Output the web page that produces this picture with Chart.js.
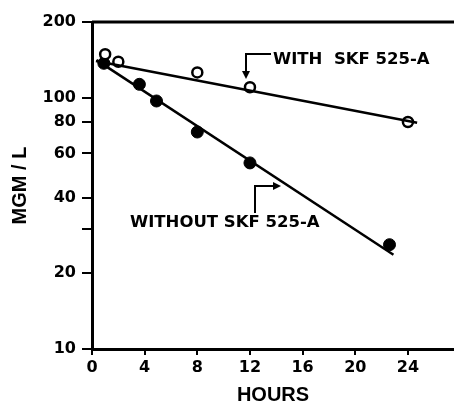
<!DOCTYPE html>
<html>
<head>
<meta charset="utf-8">
<script src="https://cdn.jsdelivr.net/npm/chart.js@4/dist/chart.umd.min.js"></script>
<style>
  html, body { margin: 0; padding: 0; background: #fff; }
  #wrap { width: 454px; height: 405px; }
</style>
</head>
<body>
<div id="wrap"><canvas id="chart" width="454" height="405"></canvas></div>
<script>
// data
const withHours = [1, 2, 8, 12, 24];
const withConc = [149, 139, 126, 110, 80];
const withoutHours = [0.9, 3.6, 4.9, 8, 12, 22.6];
const withoutConc = [137, 113, 97, 73, 55, 26];

// fitted lines (end points)
const withFitHours = [0.3, 24.7];
const withFitConc = [140, 79.5];
const withoutFitHours = [0.35, 22.9];
const withoutFitConc = [141, 23.7];

const xTicks = [0, 4, 8, 12, 16, 20, 24];
const yTicks = [10, 20, 30, 40, 60, 80, 100, 200];
const yLabelled = [10, 20, 40, 60, 80, 100, 200];

function pts(xs, ys) {
    return xs.map((x, i) => ({ x: x, y: ys[i] }));
}

Chart.defaults.color = "#000";
Chart.defaults.font.family = "'DejaVu Sans', sans-serif";
Chart.defaults.font.weight = "bold";

// top frame line and the two arrow labels
const extras = {
    id: "extras",
    afterDraw(chart) {
        const ctx = chart.ctx;
        const a = chart.chartArea;
        ctx.save();
        ctx.strokeStyle = "#000";
        ctx.fillStyle = "#000";
        ctx.lineWidth = 3;
        ctx.beginPath();
        ctx.moveTo(a.left, a.top);
        ctx.lineTo(a.right, a.top);
        ctx.stroke();

        ctx.font = "bold 16.5px 'DejaVu Sans'";
        ctx.textBaseline = "middle";
        ctx.textAlign = "left";
        ctx.fillText("WITH  SKF 525-A", 273, 60);
        ctx.fillText("WITHOUT SKF 525-A", 130, 223);

        ctx.lineWidth = 2;
        // arrow down to the 12 h open circle
        ctx.beginPath();
        ctx.moveTo(271, 54);
        ctx.lineTo(246, 54);
        ctx.lineTo(246, 72);
        ctx.stroke();
        ctx.beginPath();
        ctx.moveTo(242, 71);
        ctx.lineTo(250, 71);
        ctx.lineTo(246, 79);
        ctx.closePath();
        ctx.fill();

        // arrow right towards the lower line
        ctx.beginPath();
        ctx.moveTo(255, 213);
        ctx.lineTo(255, 186);
        ctx.lineTo(274, 186);
        ctx.stroke();
        ctx.beginPath();
        ctx.moveTo(273, 182);
        ctx.lineTo(273, 190);
        ctx.lineTo(281, 186);
        ctx.closePath();
        ctx.fill();
        ctx.restore();
    }
};

new Chart(document.getElementById("chart"), {
    type: "scatter",
    data: {
        datasets: [
            {
                label: "with fit",
                data: pts(withFitHours, withFitConc),
                showLine: true,
                pointRadius: 0,
                borderColor: "#000",
                borderWidth: 2.5
            },
            {
                label: "without fit",
                data: pts(withoutFitHours, withoutFitConc),
                showLine: true,
                pointRadius: 0,
                borderColor: "#000",
                borderWidth: 2.5
            },
            {
                label: "WITH SKF 525-A",
                data: pts(withHours, withConc),
                pointRadius: 5,
                pointBorderWidth: 2.5,
                pointBackgroundColor: "#fff",
                pointBorderColor: "#000"
            },
            {
                label: "WITHOUT SKF 525-A",
                data: pts(withoutHours, withoutConc),
                pointRadius: 6,
                pointBorderWidth: 1,
                pointBackgroundColor: "#000",
                pointBorderColor: "#000"
            }
        ]
    },
    options: {
        responsive: false,
        animation: false,
        layout: { autoPadding: false, padding: { top: 22, right: 0, left: 0, bottom: 0 } },
        plugins: {
            legend: { display: false },
            tooltip: { enabled: false }
        },
        scales: {
            x: {
                type: "linear",
                min: 0,
                max: 27.5,
                afterBuildTicks: s => { s.ticks = xTicks.map(v => ({ value: v })); },
                afterFit: s => { s.height = 56; },
                grid: { drawOnChartArea: false, color: "#000", lineWidth: 2, tickLength: 6 },
                border: { color: "#000", width: 3 },
                ticks: { font: { size: 16, weight: "bold" }, padding: 3, maxRotation: 0 },
                title: {
                    display: true,
                    text: "HOURS",
                    font: { size: 20, weight: "bold", family: "'Liberation Sans'", lineHeight: 1 },
                    padding: { top: 0, bottom: 0 }
                }
            },
            y: {
                type: "logarithmic",
                min: 10,
                max: 200,
                afterBuildTicks: s => { s.ticks = yTicks.map(v => ({ value: v })); },
                afterFit: s => { s.width = 92; },
                grid: { drawOnChartArea: false, color: "#000", lineWidth: 2, tickLength: 10 },
                border: { color: "#000", width: 3 },
                ticks: {
                    font: { size: 16, weight: "bold" },
                    padding: 6,
                    callback: v => yLabelled.includes(v) ? String(v) : ""
                },
                title: {
                    display: true,
                    text: "MGM / L",
                    font: { size: 20, weight: "bold", family: "'Liberation Sans'" },
                    padding: { top: 8, bottom: 0 }
                }
            }
        }
    },
    plugins: [extras]
});
</script>
</body>
</html>
